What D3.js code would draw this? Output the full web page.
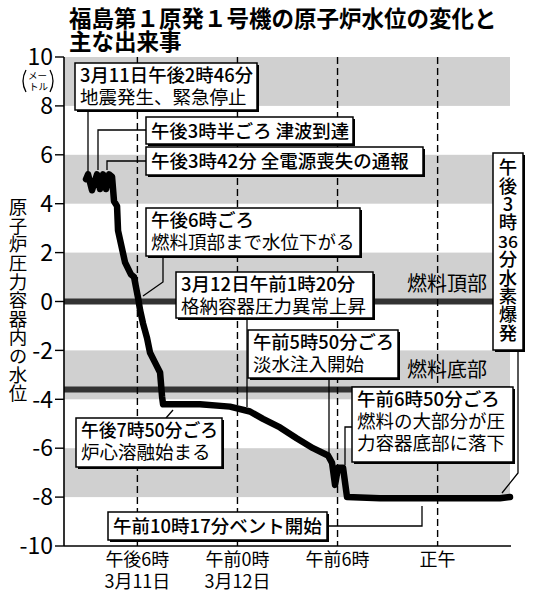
<!DOCTYPE html>
<html>
<head>
<meta charset="utf-8">
<script src="https://cdn.jsdelivr.net/npm/d3@7"></script>
<style>
  body { margin: 0; background: #fff; }
  svg { display: block; font-family: "Noto Sans CJK JP", "Noto Sans", sans-serif; }
  .vert { writing-mode: vertical-rl; text-orientation: upright; }
</style>
</head>
<body>
<div id="chart"></div>
<script>
// Hours counted from 3/11 00:00, water level in metres above fuel top
const hours = [14.92, 15.04, 15.28, 15.58, 15.76, 15.94, 16.12, 16.30, 16.48, 16.60,
  16.78, 16.84, 17.26, 17.62, 17.80, 18.04, 18.16, 18.34, 18.58, 18.76,
  19.06, 19.36, 19.48, 19.54, 21.75, 23.55, 24.75, 25.53, 26.55, 27.57,
  28.53, 29.43, 29.67, 29.85, 30.03, 30.33, 30.57, 32.55, 39.74, 40.34];
const levels = [5.0, 5.2, 4.55, 5.2, 4.6, 5.2, 4.6, 5.2, 5.1, 4.1,
  3.9, 2.9, 1.6, 1.1, 1.0, 0.15, -0.35, -0.9, -1.5, -2.1,
  -2.5, -2.9, -3.9, -4.2, -4.2, -4.3, -4.5, -4.8, -5.15, -5.6,
  -6.0, -6.3, -6.6, -7.5, -6.8, -6.8, -8.0, -8.05, -8.05, -8.0];

const yTicks = [-10, -8, -6, -4, -2, 0, 2, 4, 6, 8, 10];
const bandStarts = [8, 4, 0, -4, -8];   // shaded 2 m bands
const xTickHours = [18, 24, 30, 36];
const xTickLabels = [["午後6時", "3月11日"], ["午前0時", "3月12日"], ["午前6時"], ["正午"]];
const fuelTop = 0;
const fuelBottom = -3.6;

const title = ["福島第１原発１号機の原子炉水位の変化と", "主な出来事"];
const yTitle = "原子炉圧力容器内の水位";

// annotation boxes: text plus where they sit on the page
const notes = [
  { box: [75, 63, 182, 47], lines: ["3月11日午後2時46分", "地震発生、緊急停止"], lead: [[88, 110], [88, 172]] },
  { box: [146, 117, 207, 27], lines: ["午後3時半ごろ 津波到達"], lead: [[146, 130], [98, 130], [98, 170]] },
  { box: [146, 147, 277, 28], lines: ["午後3時42分 全電源喪失の通報"], lead: [[146, 161], [107, 161], [107, 170]] },
  { box: [146, 208, 214, 48], lines: ["午後6時ごろ", "燃料頂部まで水位下がる"], lead: [[163, 256], [163, 282], [143, 296]] },
  { box: [176, 272, 197, 46], lines: ["3月12日午前1時20分", "格納容器圧力異常上昇"], lead: [[247, 318], [247, 407]] },
  { box: [248, 330, 150, 48], lines: ["午前5時50分ごろ", "淡水注入開始"], lead: [[329, 378], [329, 455]] },
  { box: [352, 387, 161, 75], lines: ["午前6時50分ごろ", "燃料の大部分が圧", "力容器底部に落下"], lead: [[352, 427], [345, 427], [345, 465]] },
  { box: [76, 418, 146, 49], lines: ["午後7時50分ごろ", "炉心溶融始まる"], lead: [[166, 418], [173, 410]] },
  { box: [108, 512, 219, 28], lines: ["午前10時17分ベント開始"], lead: [[327, 526], [422, 526], [422, 506]] }
];
// vertical explosion note; the middle part sits sideways in one cell
const blastParts = ["午後3時", "36", "分水素爆発"];

const width = 537, height = 598;
const plotLeft = 64, plotRight = 511, plotTop = 57, plotBottom = 546;

const x = d3.scaleLinear().domain([13.6, 40.4]).range([plotLeft, plotRight]);
const y = d3.scaleLinear().domain([-10, 10]).range([plotBottom, plotTop]);

const svg = d3.select("#chart").append("svg")
  .attr("width", width)
  .attr("height", height);

// shaded bands
svg.append("g").selectAll("rect")
  .data(bandStarts)
  .join("rect")
  .attr("x", plotLeft)
  .attr("y", d => y(d + 2))
  .attr("width", 510 - plotLeft)
  .attr("height", d => y(d) - y(d + 2))
  .attr("fill", "#d0d0d0");

// fuel top / bottom lines
svg.append("line")
  .attr("x1", plotLeft).attr("x2", 493)
  .attr("y1", y(fuelTop)).attr("y2", y(fuelTop))
  .attr("stroke", "#333").attr("stroke-width", 6);
svg.append("line")
  .attr("x1", plotLeft).attr("x2", 510)
  .attr("y1", y(fuelBottom)).attr("y2", y(fuelBottom))
  .attr("stroke", "#333").attr("stroke-width", 6);

svg.append("text").attr("x", 407).attr("y", 291)
  .attr("font-size", 20).text("燃料頂部");
svg.append("text").attr("x", 407).attr("y", 377)
  .attr("font-size", 20).text("燃料底部");

// dashed time lines
svg.append("g").selectAll("line")
  .data(xTickHours)
  .join("line")
  .attr("x1", d => x(d)).attr("x2", d => x(d))
  .attr("y1", plotTop).attr("y2", plotBottom)
  .attr("stroke", "#000").attr("stroke-width", 1.4)
  .attr("stroke-dasharray", "7,4");

// water level
const line = d3.line()
  .x((d, i) => x(hours[i]))
  .y(d => y(d));
svg.append("path")
  .attr("d", line(levels))
  .attr("fill", "none")
  .attr("stroke", "#000")
  .attr("stroke-width", 6.5)
  .attr("stroke-linejoin", "round")
  .attr("stroke-linecap", "round");

// y axis
const yAxis = svg.append("g");
yAxis.append("line")
  .attr("x1", plotLeft).attr("x2", plotLeft).attr("y1", plotTop).attr("y2", plotBottom)
  .attr("stroke", "#000").attr("stroke-width", 1.6);
yAxis.selectAll(".tk")
  .data(yTicks)
  .join("line")
  .attr("class", "tk")
  .attr("x1", 55).attr("x2", plotLeft)
  .attr("y1", d => y(d)).attr("y2", d => y(d))
  .attr("stroke", "#000").attr("stroke-width", 1.4);
yAxis.selectAll("text")
  .data(yTicks)
  .join("text")
  .attr("x", 53)
  .attr("y", d => y(d))
  .attr("dy", "0.36em")
  .attr("text-anchor", "end")
  .attr("font-size", 23)
  .text(d => d);

// unit (メートル): two small rows between drawn brackets
svg.append("path")
  .attr("d", "M26,70 Q20,81 26,92 M50,70 Q56,81 50,92")
  .attr("fill", "none").attr("stroke", "#000").attr("stroke-width", 1.3);
const unit = svg.append("text").attr("font-size", 9.5);
unit.append("tspan").attr("x", 28).attr("y", 79).text("メー");
unit.append("tspan").attr("x", 29).attr("y", 90).text("トル");

// x axis
svg.append("line")
  .attr("x1", plotLeft).attr("x2", plotRight).attr("y1", plotBottom).attr("y2", plotBottom)
  .attr("stroke", "#000").attr("stroke-width", 1.6);
const xl = svg.append("g").selectAll("text")
  .data(xTickHours)
  .join("text")
  .attr("x", d => x(d))
  .attr("text-anchor", "middle")
  .attr("font-size", 18);
xl.each(function(d, i) {
  xTickLabels[i].forEach((s, k) => {
    d3.select(this).append("tspan")
      .attr("x", x(d))
      .attr("y", 566 + k * 22)
      .text(s);
  });
});

// title
svg.append("g").selectAll("text")
  .data(title)
  .join("text")
  .attr("x", 69)
  .attr("y", (d, i) => 27 + i * 23)
  .attr("font-size", 22.5)
  .attr("font-weight", 700)
  .text(d => d);

// vertical y title
svg.append("text")
  .attr("class", "vert")
  .attr("x", 18)
  .attr("y", 198)
  .attr("font-size", 18.5)
  .attr("letter-spacing", 0.1)
  .text(yTitle);

// annotation boxes
const ann = svg.append("g");
notes.forEach(n => {
  const [bx, by, bw, bh] = n.box;
  ann.append("path")
    .attr("d", d3.line()(n.lead))
    .attr("fill", "none").attr("stroke", "#000").attr("stroke-width", 1.3);
  ann.append("rect").attr("x", bx + 2).attr("y", by + 2).attr("width", bw).attr("height", bh)
    .attr("fill", "#000");
  ann.append("rect").attr("x", bx).attr("y", by).attr("width", bw).attr("height", bh)
    .attr("fill", "#fff").attr("stroke", "#000").attr("stroke-width", 1.5);
  const t = ann.append("text")
    .attr("font-size", 18.5);
  n.lines.forEach((s, i) => {
    const ts = t.append("tspan")
      .attr("x", bx + 5)
      .attr("y", by + (n.lines.length === 1 ? 21 : 19) + i * 22)
      .attr("font-weight", i === 0 ? 500 : 400)
      .text(s);
    const avail = bw - 9;
    if (ts.node().getComputedTextLength() > avail) {
      ts.attr("textLength", avail).attr("lengthAdjust", "spacingAndGlyphs");
    }
  });
});

// hydrogen explosion box (vertical text)
const blast = svg.append("g");
blast.append("path")
  .attr("d", d3.line()([[518, 350], [518, 473], [502, 493]]))
  .attr("fill", "none").attr("stroke", "#000").attr("stroke-width", 1.3);
blast.append("rect").attr("x", 495).attr("y", 155).attr("width", 30).attr("height", 197).attr("fill", "#000");
blast.append("rect").attr("x", 493).attr("y", 153).attr("width", 30).attr("height", 197)
  .attr("fill", "#fff").attr("stroke", "#000").attr("stroke-width", 1.5);
const cell = 18.4, colX = 508;
let cy = 158;
blastParts.forEach((s, i) => {
  const t = blast.append("text")
    .attr("font-size", cell)
    .attr("font-weight", 500);
  if (i === 1) {
    t.attr("x", colX).attr("y", cy + cell / 2)
      .attr("text-anchor", "middle")
      .attr("dominant-baseline", "central")
      .attr("font-size", 16)
      .attr("textLength", 20)
      .attr("lengthAdjust", "spacingAndGlyphs")
      .text(s);
    cy += cell;
  } else {
    t.attr("class", "vert").attr("x", colX).attr("y", cy).text(s);
    cy += cell * s.length;
  }
});
</script>
</body>
</html>
